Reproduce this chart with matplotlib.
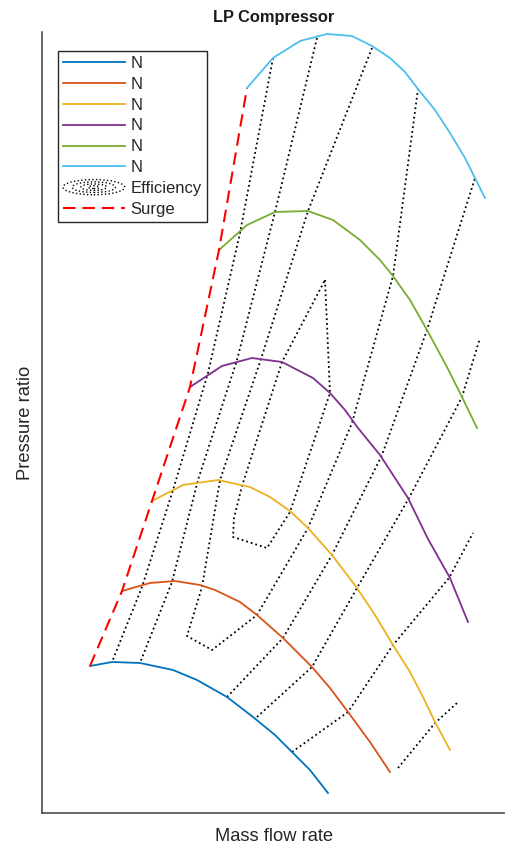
import matplotlib
matplotlib.use("Agg")
import matplotlib.pyplot as plt
from matplotlib.legend_handler import HandlerBase
from matplotlib.patches import Ellipse

plt.rcParams["font.family"] = ["Liberation Sans", "DejaVu Sans"]

# ── Speed lines (mass flow, pressure ratio) ──────────────────────────────────
n1_m  = [4.8, 7.0, 9.8, 13.1, 15.5, 18.5, 21.1, 23.3, 25.0, 26.8, 28.6]
n1_pr = [2.47, 2.51, 2.50, 2.43, 2.33, 2.16, 1.96, 1.78, 1.61, 1.43, 1.20]

n2_m  = [8.0, 10.8, 13.3, 15.8, 17.3, 19.8, 21.5, 24.1, 27.0, 28.8, 30.6, 32.8, 34.8]
n2_pr = [3.22, 3.30, 3.32, 3.28, 3.23, 3.11, 2.98, 2.75, 2.46, 2.25, 2.01, 1.71, 1.41]

n3_m  = [11.0, 14.1, 17.6, 20.8, 22.8, 24.8, 26.6, 29.0, 31.5, 33.3, 35.1, 36.8,
         38.1, 39.3, 40.8]
n3_pr = [4.12, 4.28, 4.33, 4.26, 4.16, 4.02, 3.85, 3.58, 3.25, 2.98, 2.68, 2.41,
         2.16, 1.91, 1.63]

n4_m  = [14.8, 18.0, 21.0, 24.0, 27.1, 28.8, 30.3, 31.6, 33.8, 36.6, 38.6, 40.8, 42.6]
n4_pr = [5.26, 5.47, 5.55, 5.51, 5.35, 5.20, 5.03, 4.85, 4.58, 4.15, 3.74, 3.35, 2.91]

n5_m  = [17.7, 20.5, 23.3, 26.6, 29.1, 31.8, 33.8, 35.1, 36.8, 38.5, 40.5, 42.0, 43.5]
n5_pr = [6.63, 6.88, 7.01, 7.02, 6.93, 6.73, 6.53, 6.37, 6.13, 5.83, 5.46, 5.16, 4.85]

n6_m  = [20.5, 23.1, 25.8, 28.5, 31.0, 33.0, 34.8, 36.3, 37.6, 39.3, 40.8, 42.3,
         43.3, 44.3]
n6_pr = [8.25, 8.55, 8.72, 8.79, 8.77, 8.67, 8.55, 8.41, 8.24, 8.03, 7.80, 7.55,
         7.35, 7.15]

speed_m  = [n1_m, n2_m, n3_m, n4_m, n5_m, n6_m]
speed_pr = [n1_pr, n2_pr, n3_pr, n4_pr, n5_pr, n6_pr]
speed_colors = ["#0072BD", "#D95319", "#EDB120", "#7E2F8E", "#77AC30", "#4DBEEE"]

# ── Efficiency contour branches ──────────────────────────────────────────────
eff_m = [
    [23.1, 19.8, 16.6, 13.1, 10.0, 7.0],
    [27.5, 23.3, 19.5, 15.6, 13.0, 9.8],
    [33.0, 26.6, 21.9, 17.8, 16.0, 14.5, 17.0, 21.5, 26.6, 31.0, 35.1, 37.6],
    [18.5, 24.1, 29.0, 34.0, 38.5, 43.3],
    [21.5, 27.0, 31.5, 36.7, 42.0, 43.8],
    [25.0, 30.6, 35.1, 40.7, 43.1],
    [35.6, 39.3, 41.5],
    [28.3, 28.8, 24.8, 22.5, 19.1, 19.2, 20.0, 24.0, 28.3],
]
eff_pr = [
    [8.55, 6.80, 5.40, 4.23, 3.26, 2.51],
    [8.75, 7.01, 5.53, 4.33, 3.31, 2.50],
    [8.65, 7.02, 5.54, 4.33, 3.26, 2.77, 2.63, 2.98, 3.85, 4.90, 6.37, 8.24],
    [2.16, 2.75, 3.58, 4.58, 5.83, 7.35],
    [1.96, 2.46, 3.25, 4.15, 5.16, 5.75],
    [1.61, 2.01, 2.68, 3.35, 3.80],
    [1.45, 1.90, 2.10],
    [6.33, 5.20, 4.01, 3.65, 3.76, 3.95, 4.27, 5.51, 6.33],
]

# surge line runs through the first point of every speed line
surge_m  = [m[0] for m in speed_m]
surge_pr = [p[0] for p in speed_pr]


class ContourHandler(HandlerBase):
    """Legend icon: nested dotted ellipses like a contour."""
    def create_artists(self, legend, orig_handle, xdescent, ydescent,
                       width, height, fontsize, trans):
        cx = width / 2 - xdescent
        cy = height / 2 - ydescent
        arts = []
        for f in (1.0, 0.7, 0.42, 0.18):
            arts.append(Ellipse((cx, cy), width * f, height * 1.3 * f,
                                fill=False, ls=":", lw=1.0, ec="black",
                                transform=trans))
        return arts


fig = plt.figure(figsize=(5.06, 8.48), dpi=100)
ax = fig.add_axes([42 / 506, 1 - 813 / 848, 1 - 42 / 506, (813 - 32) / 848])

lines = []
for m, pr, c in zip(speed_m, speed_pr, speed_colors):
    ln, = ax.plot(m, pr, color=c, lw=1.3, label="N", zorder=3)
    lines.append(ln)

eff_line = None
for m, pr in zip(eff_m, eff_pr):
    ln, = ax.plot(m, pr, color="black", ls=":", lw=1.3, zorder=2)
    if eff_line is None:
        eff_line = ln

surge_line, = ax.plot(surge_m, surge_pr, color="#FF0000", lw=1.5,
                      dashes=(6, 3.3), zorder=4)

ax.set_xlim(0, 46.4)
ax.set_ylim(1.0, 8.81)
ax.set_xticks([])
ax.set_yticks([])
for side in ["top", "right"]:
    ax.spines[side].set_visible(False)
for side in ["left", "bottom"]:
    ax.spines[side].set_color("#404040")
    ax.spines[side].set_linewidth(1.1)

ax.set_title("LP Compressor", fontsize=11.8, fontweight="bold",
             color="#1a1a1a", pad=7)
ax.set_xlabel("Mass flow rate", fontsize=13.2, color="#262626", labelpad=11)
ax.set_ylabel("Pressure ratio", fontsize=13.2, color="#262626", labelpad=6)

leg = ax.legend(lines + [eff_line, surge_line],
                ["N"] * 6 + ["Efficiency", "Surge"],
                handler_map={eff_line: ContourHandler()},
                loc="upper left", bbox_to_anchor=(58 / 506, 1 - 51 / 848),
                bbox_transform=fig.transFigure, borderaxespad=0,
                fontsize=12, frameon=True, fancybox=False, framealpha=1,
                edgecolor="#262626", handlelength=3.7, handletextpad=0.35,
                labelspacing=0.35, borderpad=0.3)
leg.get_frame().set_linewidth(1.0)
for t in leg.get_texts():
    t.set_color("#262626")

fig.savefig("out.png", dpi=100, facecolor="white")
